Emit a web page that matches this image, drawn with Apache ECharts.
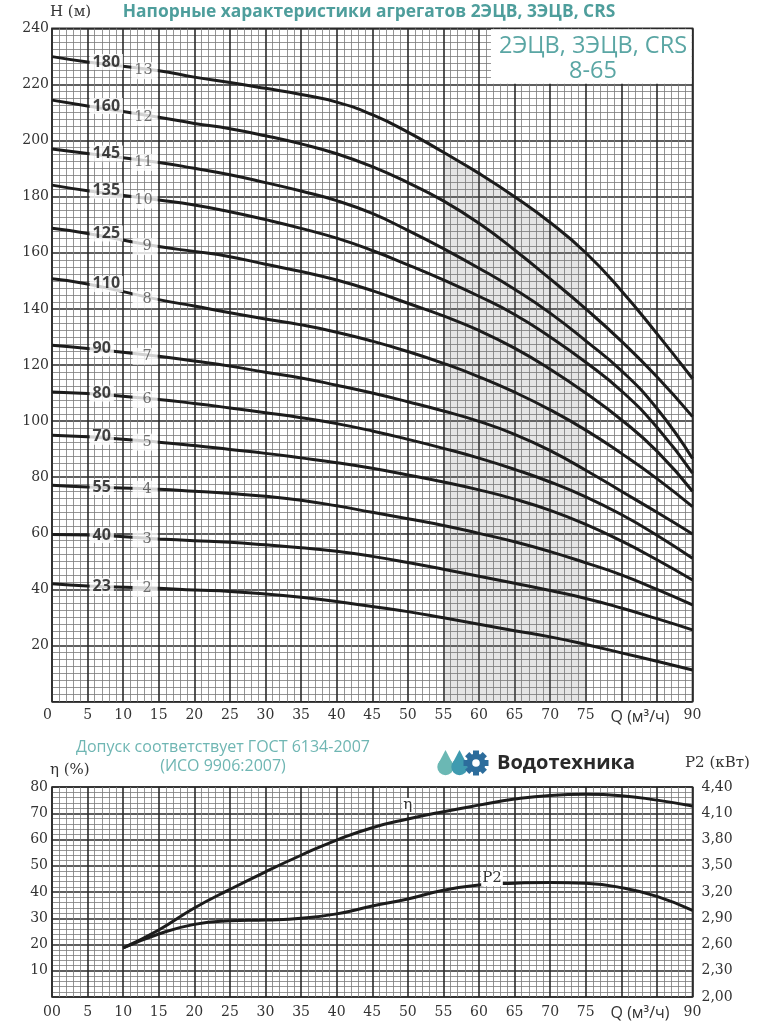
<!DOCTYPE html>
<html>
<head>
<meta charset="utf-8">
<script src="https://cdn.jsdelivr.net/npm/echarts@6/dist/echarts.min.js"></script>
<style>
  html, body { margin: 0; padding: 0; background: #fff; }
  #chart { width: 764px; height: 1024px; }
</style>
</head>
<body>
<div id="chart"></div>
<script>
// подача Q, м3/ч (для напорных кривых)
const qHead = [0, 5, 15, 20, 25, 30, 35, 40, 45, 50, 55, 60, 65, 70, 75, 80, 85, 90];

// напор H, м — по числу ступеней
const head2  = [42, 41.2, 40.4, 39.8, 39.3, 38.4, 37.2, 35.7, 33.9, 32.1, 29.9, 27.6, 25.3, 23.1, 20.4, 17.4, 14.4, 11.3];
const head3  = [59.6, 59.4, 58, 57.4, 56.8, 55.9, 54.9, 53.6, 51.8, 49.6, 47.2, 44.7, 42.2, 39.6, 36.8, 33.4, 29.6, 25.6];
const head4  = [77.1, 76.5, 75.7, 75, 74.2, 73.2, 71.8, 69.8, 67.5, 65.2, 62.8, 60, 57, 53.5, 49.5, 45.2, 40, 34.5];
const head5  = [95, 94.4, 92.5, 91.3, 89.9, 88.5, 86.9, 85.2, 83.2, 80.8, 78.3, 75.5, 72.2, 68.2, 63.2, 57.3, 50.6, 43.4];
const head6  = [110.4, 109.8, 107.7, 106.3, 104.7, 103, 101.2, 99.1, 96.5, 93.5, 90.3, 86.8, 82.8, 78.3, 73, 66.7, 59.3, 51.1];
const head7  = [127, 125.9, 123.1, 121.4, 119.6, 117.4, 115.4, 112.8, 110, 106.9, 103.6, 99.9, 95.3, 89.5, 82.5, 75, 67.5, 59.8];
const head8  = [150.7, 148.9, 143.3, 141, 138.6, 136.4, 134.3, 131.7, 128.5, 124.8, 120.6, 115.8, 110.3, 104, 96.8, 88.5, 79.5, 69.5];
const head9  = [168.7, 166.9, 162.2, 160.5, 158.6, 155.9, 153.3, 150.3, 146.5, 142, 137.5, 132.3, 126, 118.5, 110, 100.5, 89.3, 75];
const head10 = [184.1, 182.1, 178.8, 177, 174.6, 171.8, 168.7, 165.2, 160.8, 155.7, 150.3, 144.5, 138, 130, 121, 110.8, 97.8, 81.5];
const head11 = [197, 195.4, 192.2, 190.1, 187.8, 185, 182, 178.6, 174, 168, 161.5, 154.5, 147, 138.5, 128.6, 118, 104.5, 86.7];
const head12 = [214.4, 212.3, 208.3, 206.1, 204.2, 201.7, 198.8, 195.3, 190.7, 185, 178.5, 170.5, 161, 150.7, 140, 128.5, 115.8, 101.6];
const head13 = [229.9, 228, 224.9, 222.6, 220.7, 218.6, 216.4, 213.7, 209.2, 203, 195.8, 188.3, 180, 170.8, 160, 146.5, 131.2, 115.2];

const heads = [head2, head3, head4, head5, head6, head7, head8, head9, head10, head11, head12, head13];
const stageLabels = ['2', '3', '4', '5', '6', '7', '8', '9', '10', '11', '12', '13'];
const modelLabels = ['23', '40', '55', '70', '80', '90', '110', '125', '135', '145', '160', '180'];

// рабочая зона, м3/ч
const workZone = [55, 75];

// КПД и мощность
const qEff = [10, 15, 20, 25, 30, 35, 40, 45, 50, 55, 60, 65, 70, 75, 80, 85, 90];
const eta  = [18.7, 25.5, 33.9, 41, 47.7, 54, 59.8, 64.5, 67.8, 70.6, 73.1, 75.4, 76.8, 77.2, 76.7, 75, 72.8];
const p2   = [2.56, 2.72, 2.83, 2.87, 2.88, 2.9, 2.95, 3.04, 3.12, 3.22, 3.28, 3.3, 3.31, 3.3, 3.25, 3.15, 2.99];
const p2Ticks = [2.0, 2.3, 2.6, 2.9, 3.2, 3.5, 3.8, 4.1, 4.4];

const TEAL = '#4e9e9c';
const SERIF = 'DejaVu Serif';
const SANS = 'Open Sans';
const SMOOTH = 0.5;

const chart = echarts.init(document.getElementById('chart'), null, { renderer: 'canvas' });

// подписи оси Q: на месте 80 и 85 стоит "Q (м³/ч)"
const qLabel = (first) => (v) => {
    if (v === 80 || v === 85) return '';
    if (v === 0) return first;
    return String(v);
};

const majorLine = { show: true, lineStyle: { color: '#2a2a2a', width: 1.6 } };
const minorLine = { show: true, lineStyle: { color: '#7a7a7a', width: 0.8 } };
const axisText = { fontFamily: SERIF, fontSize: 14, color: '#333' };

const curveSeries = heads.map((h, k) => ({
    type: 'line',
    name: stageLabels[k],
    xAxisIndex: 0,
    yAxisIndex: 0,
    data: qHead.map((q, i) => [q, h[i]]),
    smooth: SMOOTH,
    showSymbol: false,
    lineStyle: { color: '#1c1c1c', width: 3 },
    z: 3
}));

// серая зона под верхней кривой
const zoneData = qHead.map((q, i) => [q, head13[i]]).filter(p => p[0] >= workZone[0] && p[0] <= workZone[1]);

// капля логотипа: круг + треугольник
const drop = (cx, color, z) => ([
    { type: 'polygon', z: z, shape: { points: [[cx, 750], [cx - 7.6, 764.5], [cx + 7.6, 764.5]] }, style: { fill: color } },
    { type: 'circle', z: z, shape: { cx: cx, cy: 767, r: 8.2 }, style: { fill: color } }
]);

const option = {
    animation: false,
    backgroundColor: '#fff',
    grid: [
        { left: 52, top: 28.3, width: 640.5, height: 673.4, show: true, borderColor: '#2a2a2a', borderWidth: 1.6 },
        { left: 52, top: 787, width: 640.5, height: 210, show: true, borderColor: '#2a2a2a', borderWidth: 1.6 }
    ],
    xAxis: [
        {
            gridIndex: 0, type: 'value', min: 0, max: 90, interval: 5,
            axisLine: { show: false }, axisTick: { show: false },
            axisLabel: Object.assign({ margin: 7, alignMinLabel: 'right', formatter: qLabel('0') }, axisText),
            splitLine: majorLine,
            minorTick: { show: false, splitNumber: 5 },
            minorSplitLine: minorLine
        },
        {
            gridIndex: 1, type: 'value', min: 0, max: 90, interval: 5,
            axisLine: { show: false }, axisTick: { show: false },
            axisLabel: Object.assign({ margin: 8, formatter: qLabel('00') }, axisText),
            splitLine: majorLine,
            minorTick: { show: false, splitNumber: 5 },
            minorSplitLine: minorLine
        }
    ],
    yAxis: [
        {
            gridIndex: 0, type: 'value', min: 0, max: 240, interval: 20,
            axisLine: { show: false }, axisTick: { show: false },
            axisLabel: Object.assign({ margin: 3, formatter: v => (v === 0 ? '' : String(v)) }, axisText),
            splitLine: majorLine,
            minorTick: { show: false, splitNumber: 8 },
            minorSplitLine: minorLine
        },
        {
            gridIndex: 1, type: 'value', min: 0, max: 80, interval: 10,
            axisLine: { show: false }, axisTick: { show: false },
            axisLabel: Object.assign({ margin: 4, formatter: v => (v === 0 ? '' : String(v)) }, axisText),
            splitLine: majorLine,
            minorTick: { show: false, splitNumber: 5 },
            minorSplitLine: minorLine
        },
        {
            gridIndex: 1, type: 'value', position: 'right', min: 2, max: 4.4,
            axisLine: { show: false }, axisTick: { show: false },
            axisLabel: Object.assign({
                margin: 9, customValues: p2Ticks,
                formatter: v => v.toFixed(2).replace('.', ',')
            }, axisText),
            splitLine: { show: false }
        }
    ],
    series: [
        {
            type: 'line',
            name: 'zone',
            xAxisIndex: 0, yAxisIndex: 0,
            data: zoneData,
            smooth: SMOOTH,
            showSymbol: false,
            lineStyle: { width: 0, opacity: 0 },
            areaStyle: { color: 'rgba(120,120,120,0.28)', origin: 'start' },
            z: 1
        },
        ...curveSeries,
        {
            // маркировка агрегата (жирные числа слева)
            type: 'scatter',
            xAxisIndex: 0, yAxisIndex: 0,
            data: heads.map(h => [qHead[1], h[1]]),
            symbolSize: 0,
            z: 10,
            label: {
                show: true,
                position: 'right',
                distance: 2,
                formatter: p => modelLabels[p.dataIndex],
                fontFamily: SANS, fontWeight: 'bold', fontSize: 16, color: '#111',
                backgroundColor: '#fff',
                lineHeight: 15,
                padding: [1, 3, 0, 3]
            }
        },
        {
            // число ступеней
            type: 'scatter',
            xAxisIndex: 0, yAxisIndex: 0,
            data: heads.map((h, k) => ({
                value: [qHead[2], h[2]],
                label: { padding: stageLabels[k].length > 1 ? [1, 5, 0, 3] : [1, 6, 0, 10] }
            })),
            symbolSize: 0,
            z: 10,
            label: {
                show: true,
                position: 'left',
                distance: 1,
                formatter: p => stageLabels[p.dataIndex],
                fontFamily: SERIF, fontSize: 14.5, color: '#4a4a4a',
                backgroundColor: '#fff',
                lineHeight: 16
            }
        },
        {
            type: 'line',
            name: 'η',
            xAxisIndex: 1, yAxisIndex: 1,
            data: qEff.map((q, i) => {
                const item = { value: [q, eta[i]] };
                if (q === 50) {
                    item.label = {
                        show: true, formatter: 'η', position: 'top', distance: 6,
                        fontFamily: SERIF, fontSize: 15, color: '#333',
                        backgroundColor: '#fff', padding: [0, 1]
                    };
                }
                return item;
            }),
            smooth: SMOOTH,
            showSymbol: true,
            symbolSize: 0,
            lineStyle: { color: '#1c1c1c', width: 3 },
            z: 3
        },
        {
            type: 'line',
            name: 'P2',
            xAxisIndex: 1, yAxisIndex: 2,
            data: qEff.map((q, i) => {
                const item = { value: [q, p2[i]] };
                if (q === 60) {
                    item.label = {
                        show: true, formatter: 'P2', position: 'top', distance: -1, offset: [13, 0],
                        fontFamily: SERIF, fontSize: 15, color: '#333',
                        backgroundColor: '#fff', padding: [0, 1]
                    };
                }
                return item;
            }),
            smooth: SMOOTH,
            showSymbol: true,
            symbolSize: 0,
            lineStyle: { color: '#1c1c1c', width: 3 },
            z: 3
        }
    ],
    graphic: [
        // белая плашка с названием серии
        { type: 'rect', z: 20, shape: { x: 491, y: 29.2, width: 200.6, height: 54.6 }, style: { fill: '#fff' } },
        { type: 'text', z: 21, x: 593, y: 46, style: { text: '2ЭЦВ, 3ЭЦВ, CRS', fill: '#5aa6a4', font: '23.5px "Open Sans"', align: 'center', verticalAlign: 'middle' } },
        { type: 'text', z: 21, x: 593, y: 71, style: { text: '8-65', fill: '#5aa6a4', font: '23.5px "Open Sans"', align: 'center', verticalAlign: 'middle' } },

        { type: 'text', z: 21, x: 369, y: 12, style: { text: 'Напорные характеристики агрегатов 2ЭЦВ, 3ЭЦВ, CRS', fill: TEAL, font: 'bold 17.4px "Open Sans"', align: 'center', verticalAlign: 'middle' } },
        { type: 'text', z: 21, x: 50, y: 12, style: { text: 'H (м)', fill: '#333', font: '15px "DejaVu Serif"', align: 'left', verticalAlign: 'middle' } },
        { type: 'text', z: 21, x: 640, y: 717, style: { text: 'Q (м³/ч)', fill: '#333', font: '16px "Open Sans"', align: 'center', verticalAlign: 'middle' } },

        { type: 'text', z: 21, x: 223, y: 747, style: { text: 'Допуск соответствует ГОСТ 6134-2007', fill: '#6fb6b3', font: '16px "Open Sans"', align: 'center', verticalAlign: 'middle' } },
        { type: 'text', z: 21, x: 223, y: 766, style: { text: '(ИСО 9906:2007)', fill: '#6fb6b3', font: '16px "Open Sans"', align: 'center', verticalAlign: 'middle' } },
        { type: 'text', z: 21, x: 50, y: 770, style: { text: 'η (%)', fill: '#333', font: '15px "DejaVu Serif"', align: 'left', verticalAlign: 'middle' } },
        { type: 'text', z: 21, x: 685, y: 763, style: { text: 'P2 (кВт)', fill: '#333', font: '15px "DejaVu Serif"', align: 'left', verticalAlign: 'middle' } },
        { type: 'text', z: 21, x: 640, y: 1013, style: { text: 'Q (м³/ч)', fill: '#333', font: '16px "Open Sans"', align: 'center', verticalAlign: 'middle' } },

        // логотип
        ...drop(445.5, '#6bb8b4', 21),
        ...drop(459.5, '#3f9bb0', 22),
        {
            type: 'group', x: 476, y: 763,
            children: [0, 1, 2, 3, 4, 5, 6, 7].map(k => ({
                type: 'rect', z: 23, rotation: k * Math.PI / 4,
                shape: { x: -3, y: -12.5, width: 6, height: 6 }, style: { fill: '#2d6d9c' }
            })).concat([
                { type: 'ring', z: 23, shape: { cx: 0, cy: 0, r: 9.5, r0: 3.8 }, style: { fill: '#2d6d9c' } }
            ])
        },
        { type: 'text', z: 21, x: 497, y: 763, style: { text: 'Водотехника', fill: '#2a2a2a', font: 'bold 20px "Open Sans"', align: 'left', verticalAlign: 'middle' } }
    ]
};

chart.setOption(option);
</script>
</body>
</html>
